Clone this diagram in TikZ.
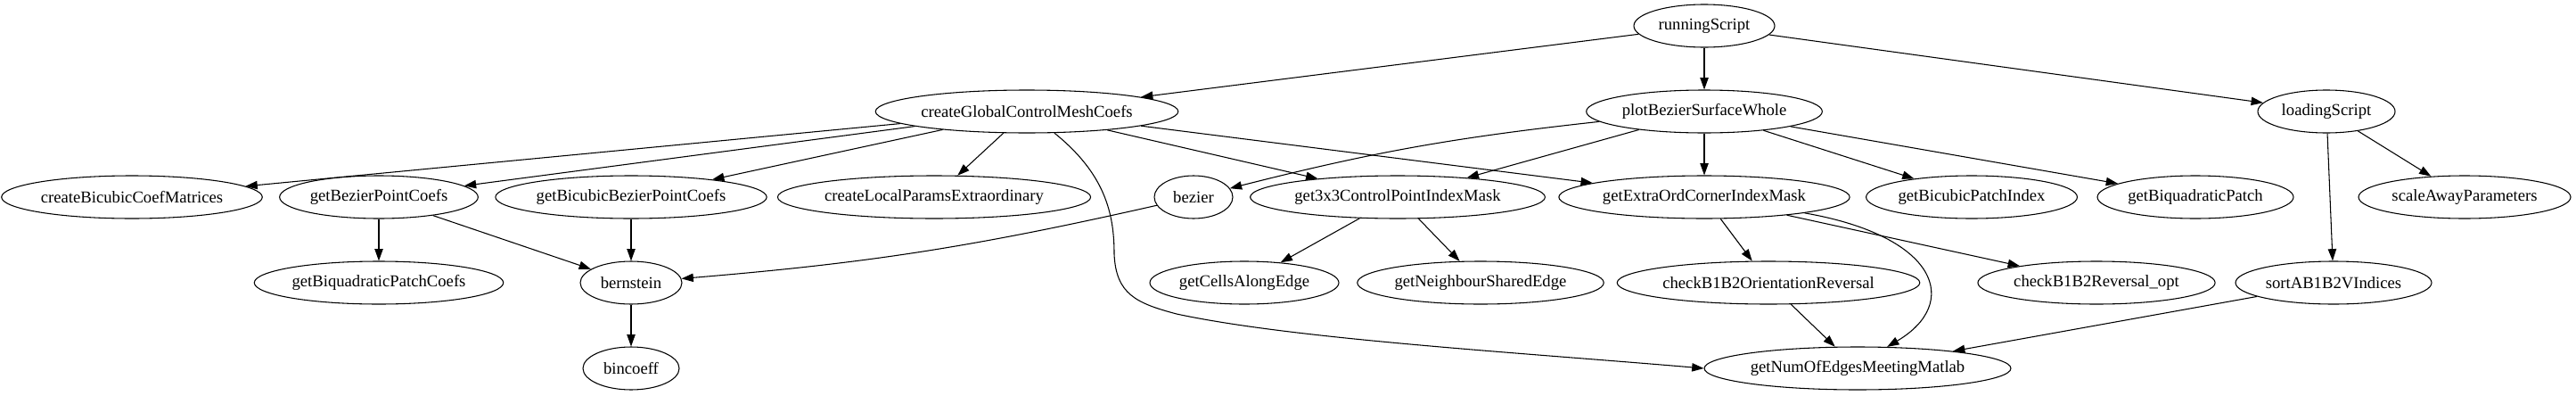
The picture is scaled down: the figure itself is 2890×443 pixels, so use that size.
\documentclass[tikz,border=0pt]{standalone}
\usepackage{fontspec}
\setmainfont{Liberation Serif}
\usepackage{tikz}
\usetikzlibrary{shapes.geometric, arrows.meta}

\begin{document}
\begin{tikzpicture}[
            x=0.75pt, y=-0.75pt,
            font=\fontsize{14}{16}\selectfont,
            func/.style ={ellipse, draw=black, line width=0.8pt, inner sep=1pt,
                          minimum height=36pt, align=center},
            arrow/.style={-{Triangle[length=10pt, width=7pt]}, line width=0.8pt}
        ]
        \useasboundingbox (0,0) rectangle (2890,443);

        % top rows
        \node[func, minimum width=118.5pt] (running)  at (1912,29)  {runningScript};
        \node[func, minimum width=246pt]   (global)   at (1152,125) {createGlobalControlMeshCoefs};
        \node[func, minimum width=198pt]   (plot)     at (1912,125) {plotBezierSurfaceWhole};
        \node[func, minimum width=115.5pt] (loading)  at (2610,125) {loadingScript};

        \node[func, minimum width=216pt]   (bicoef)   at (148,221)  {createBicubicCoefMatrices};
        \node[func, minimum width=167pt]   (bezpt)    at (425,221)  {getBezierPointCoefs};
        \node[func, minimum width=220.5pt] (bicubpt)  at (708,221)  {getBicubicBezierPointCoefs};
        \node[func, minimum width=253.5pt] (localpar) at (1048,221) {createLocalParamsExtraordinary};
        \node[func, minimum width=66pt]    (bezier)   at (1339,221) {bezier};
        \node[func, minimum width=241.5pt] (mask)     at (1568,221) {get3x3ControlPointIndexMask};
        \node[func, minimum width=237pt]   (extraord) at (1912,221) {getExtraOrdCornerIndexMask};
        \node[func, minimum width=177pt]   (bicpatch) at (2212,221) {getBicubicPatchIndex};
        \node[func, minimum width=165pt]   (biqpatch) at (2463,221) {getBiquadraticPatch};
        \node[func, minimum width=178.5pt] (scaleaway) at (2765,221) {scaleAwayParameters};

        % lower rows
        \node[func, minimum width=205.5pt] (biqcoefs) at (425,317)  {getBiquadraticPatchCoefs};
        \node[func, minimum width=85.5pt]  (bern)     at (708,317)  {bernstein};
        \node[func, minimum width=159pt]   (cells)    at (1396,317) {getCellsAlongEdge};
        \node[func, minimum width=202.5pt] (neighbour) at (1661,317) {getNeighbourSharedEdge};
        \node[func, minimum width=246pt]   (orient)   at (1984,317) {checkB1B2OrientationReversal};
        \node[func, minimum width=196.5pt] (revopt)   at (2352,317) {checkB1B2Reversal\_opt};
        \node[func, minimum width=165pt]   (sortidx)  at (2618,317) {sortAB1B2VIndices};

        \node[func, minimum width=81pt]    (bincoeff) at (708,413)  {bincoeff};
        \node[func, minimum width=252pt]   (numedges) at (2084,413) {getNumOfEdgesMeetingMatlab};

        \draw[arrow] (running) -- (global);
        \draw[arrow] (running) -- (plot);
        \draw[arrow] (running) -- (loading);

        \draw[arrow] (global) -- (bicoef);
        \draw[arrow] (global) -- (bezpt);
        \draw[arrow] (global) -- (bicubpt);
        \draw[arrow] (global) -- (localpar);
        \draw[arrow] (global) -- (mask);
        \draw[arrow] (global) -- (extraord);
        \draw[arrow] (global.-38) .. controls (1240,195) and (1250,240) .. (1250,285)
                                  .. controls (1252,330) and (1275,340) .. (1320,352)
                                  .. controls (1450,380) and (1700,395) .. (numedges.west);

        \draw[arrow] (plot) to[bend right=4] (bezier);
        \draw[arrow] (plot) -- (mask);
        \draw[arrow] (plot) -- (extraord);
        \draw[arrow] (plot) -- (bicpatch);
        \draw[arrow] (plot) -- (biqpatch);

        \draw[arrow] (loading) -- (scaleaway);
        \draw[arrow] (loading) -- (sortidx);

        \draw[arrow] (bezpt)   -- (biqcoefs);
        \draw[arrow] (bezpt)   -- (bern);
        \draw[arrow] (bicubpt) -- (bern);
        \draw[arrow] (bezier) to[bend left=4] (bern);
        \draw[arrow] (bern)    -- (bincoeff);

        \draw[arrow] (mask) -- (cells);
        \draw[arrow] (mask) -- (neighbour);

        \draw[arrow] (extraord) -- (orient);
        \draw[arrow] (extraord) -- (revopt);
        \draw[arrow] (extraord.-9) .. controls (2175,265) and (2200,340) .. (numedges.36);

        \draw[arrow] (orient)  -- (numedges);
        \draw[arrow] (sortidx) -- (numedges);
        \end{tikzpicture}
\end{document}
